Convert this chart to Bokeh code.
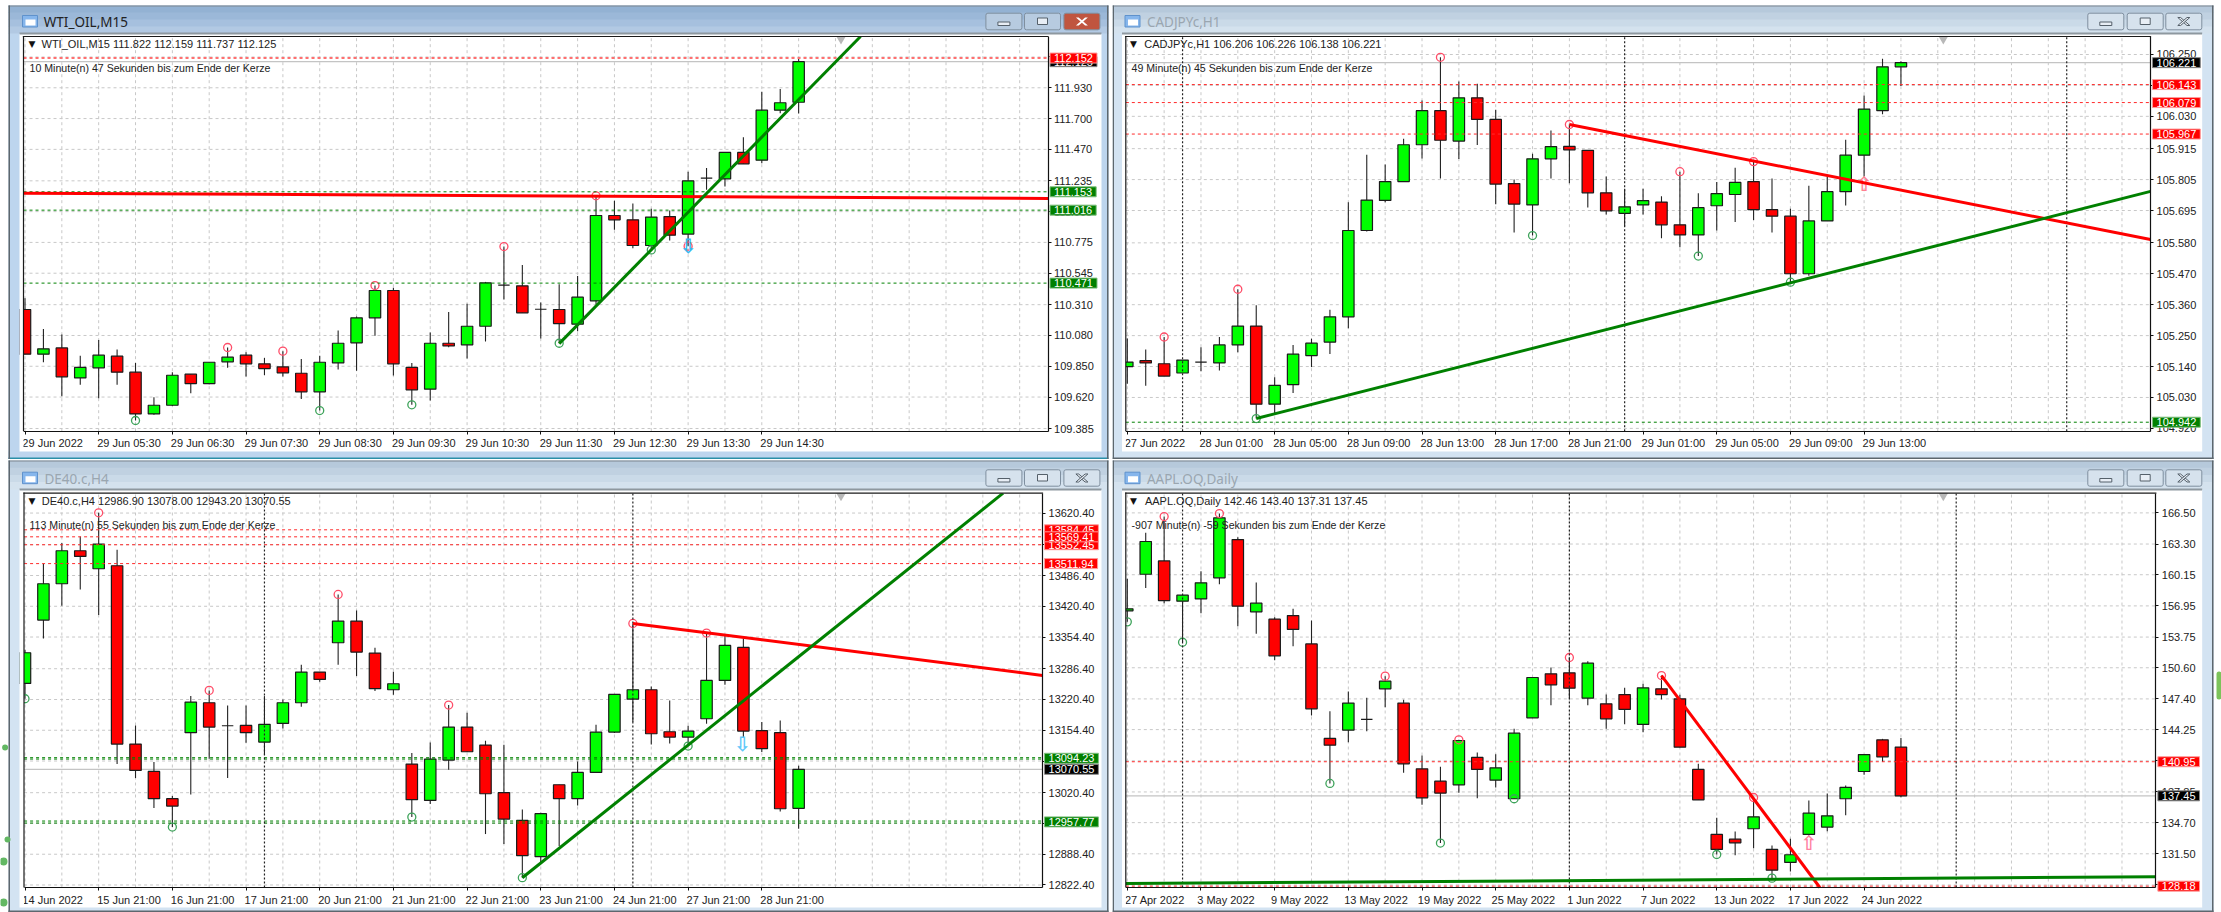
from bokeh.plotting import figure
from bokeh.layouts import column, row
from bokeh.models import Range1d, FixedTicker, Label, BoxAnnotation, PolyAnnotation
from bokeh.core.properties import value
from bokeh.embed import file_html
from bokeh.resources import INLINE

# ---------- WTI_OIL,M15 ----------
wti_open = [110.274,109.940,109.987,109.763,109.838,109.925,109.806,109.494,109.559,109.791,109.721,109.883,109.933,109.868,109.845,109.798,109.659,109.875,110.025,110.212,110.416,109.841,109.679,110.022,110.010,110.149,110.456,110.451,110.276,110.274,110.164,110.339,110.976,110.944,110.752,110.968,110.837,111.255,111.250,111.447,111.389,111.763,111.822]
wti_high = [110.358,110.129,110.087,109.928,110.047,109.975,109.875,109.619,109.806,109.791,109.880,109.990,109.955,109.913,109.963,109.905,109.928,110.117,110.221,110.453,110.436,109.875,110.102,110.256,110.316,110.480,110.744,110.607,110.326,110.463,110.525,111.123,111.086,111.066,111.026,111.013,111.302,111.330,111.447,111.561,111.900,111.920,112.159]
wti_low = [109.940,109.880,109.626,109.711,109.611,109.711,109.445,109.487,109.554,109.649,109.716,109.838,109.773,109.783,109.773,109.606,109.519,109.826,109.816,110.077,109.781,109.562,109.594,109.992,109.908,110.035,110.348,110.249,110.057,110.022,110.112,110.314,110.869,110.732,110.719,110.789,110.747,111.168,111.193,111.362,111.367,111.740,111.737]
wti_close = [109.940,109.980,109.771,109.841,109.933,109.806,109.494,109.559,109.783,109.721,109.880,109.918,109.868,109.833,109.801,109.659,109.880,110.022,110.212,110.416,109.868,109.674,110.022,110.002,110.149,110.473,110.456,110.249,110.276,110.169,110.366,110.976,110.944,110.752,110.964,110.829,111.235,111.255,111.447,111.362,111.763,111.818,112.125]
wti_xlabels = ["29 Jun 2022","29 Jun 05:30","29 Jun 06:30","29 Jun 07:30","29 Jun 08:30","29 Jun 09:30","29 Jun 10:30","29 Jun 11:30","29 Jun 12:30","29 Jun 13:30","29 Jun 14:30"]
wti_yticks = ["112.160","111.930","111.700","111.470","111.235","111.005","110.775","110.545","110.310","110.080","109.850","109.620","109.385"]
wti_high_marks = [11,14,19,26,31]
wti_low_marks = [6,16,21,29,34]

# ---------- CADJPYc,H1 ----------
cad_open = [105.140,105.161,105.150,105.117,105.156,105.153,105.217,105.284,105.006,105.076,105.179,105.227,105.317,105.624,105.731,105.798,105.929,106.050,105.942,106.096,106.019,105.791,105.715,105.879,105.923,105.909,105.758,105.685,105.715,105.725,105.644,105.608,105.712,105.752,105.798,105.698,105.675,105.470,105.658,105.762,105.892,106.050,106.206]
cad_high = [105.240,105.201,105.245,105.163,105.209,105.245,105.415,105.358,105.102,105.217,105.239,105.342,105.724,105.893,105.859,105.950,106.086,106.240,106.154,106.146,106.053,105.805,105.897,105.980,106.001,105.909,105.816,105.772,105.772,105.746,105.833,105.756,105.796,105.847,105.869,105.809,105.701,105.783,105.814,105.947,106.104,106.235,106.226]
cad_low = [105.079,105.072,105.106,105.117,105.123,105.126,105.191,104.955,104.972,105.046,105.138,105.185,105.276,105.620,105.724,105.797,105.880,105.809,105.878,105.928,105.717,105.617,105.606,105.809,105.792,105.706,105.681,105.638,105.681,105.596,105.564,105.533,105.624,105.654,105.661,105.617,105.440,105.463,105.658,105.713,105.816,106.037,106.138]
cad_close = [105.156,105.153,105.106,105.163,105.156,105.217,105.284,105.006,105.073,105.184,105.223,105.317,105.624,105.732,105.798,105.929,106.050,105.945,106.096,106.019,105.789,105.718,105.879,105.922,105.911,105.758,105.694,105.708,105.730,105.644,105.608,105.705,105.755,105.795,105.698,105.675,105.470,105.658,105.762,105.892,106.056,106.206,106.221]
cad_xlabels = ["27 Jun 2022","28 Jun 01:00","28 Jun 05:00","28 Jun 09:00","28 Jun 13:00","28 Jun 17:00","28 Jun 21:00","29 Jun 01:00","29 Jun 05:00","29 Jun 09:00","29 Jun 13:00"]
cad_yticks = ["106.250","106.140","106.030","105.915","105.805","105.695","105.580","105.470","105.360","105.250","105.140","105.030","104.920"]
cad_high_marks = [2,6,17,24,30,34]
cad_low_marks = [7,22,31,36]

# ---------- DE40.c,H4 ----------
de_open = [13254.9,13390.8,13468.7,13539.5,13500.9,13507.3,13124.8,13066.1,13007.5,13149.1,13213.4,13164.1,13164.8,13129.1,13169.1,13213.4,13279.2,13342.1,13388.6,13320.0,13241.3,13081.9,13003.9,13090.4,13161.2,13122.6,13020.4,12961.0,12883.1,13037.5,13007.5,13064.0,13150.5,13221.3,13241.3,13151.2,13139.8,13179.1,13261.3,13332.1,13153.4,13149.1,12986.90]
de_high = [13327.1,13511.6,13555.9,13570.2,13621.0,13541.6,13164.8,13086.2,13013.2,13227.7,13239.9,13207.7,13207.7,13227.7,13220.6,13295.0,13279.2,13445.8,13411.5,13331.4,13279.9,13105.5,13128.3,13208.4,13192.0,13131.9,13123.3,12984.6,12977.5,13037.5,13087.6,13166.2,13231.3,13383.6,13248.5,13218.4,13164.1,13362.9,13357.9,13350.7,13172.0,13175.5,13078.00]
de_low = [13222.0,13351.4,13421.5,13456.6,13401.5,13081.9,13051.8,12987.5,12946.7,13016.8,13093.3,13051.8,13127.6,13101.9,13158.4,13204.9,13258.5,13295.0,13270.6,13238.5,13230.6,12968.2,12996.1,13069.7,13108.3,12931.7,12910.2,12838.0,12870.2,12906.0,12993.2,13064.0,13148.4,13172.0,13124.0,13126.2,13120.5,13168.4,13252.0,13137.6,13107.6,12980.3,12943.20]
de_close = [13320.7,13468.7,13539.5,13527.3,13553.8,13124.8,13068.3,13007.5,12991.8,13214.9,13161.2,13164.1,13149.1,13167.0,13213.4,13279.2,13263.5,13388.6,13322.1,13243.5,13254.2,13005.4,13092.6,13161.2,13108.3,13018.2,12963.9,12885.2,12975.3,13007.5,13064.0,13150.5,13231.3,13241.3,13146.9,13139.8,13152.7,13261.3,13336.4,13152.7,13114.8,12986.0,13070.55]
de_xlabels = ["14 Jun 2022","15 Jun 21:00","16 Jun 21:00","17 Jun 21:00","20 Jun 21:00","21 Jun 21:00","22 Jun 21:00","23 Jun 21:00","24 Jun 21:00","27 Jun 21:00","28 Jun 21:00"]
de_yticks = ["13620.40","13552.40","13486.40","13420.40","13354.40","13286.40","13220.40","13154.40","13088.40","13020.40","12954.40","12888.40","12822.40"]
de_high_marks = [4,10,17,23,33,37]
de_low_marks = [0,8,21,27,36]

# ---------- AAPL.OQ,Daily ----------
aapl_open = [156.44,160.20,161.57,157.44,157.67,159.83,163.76,156.34,155.59,155.96,153.05,143.34,144.19,145.29,148.44,146.97,140.22,138.96,138.58,141.39,139.06,137.15,145.46,149.98,150.08,147.48,146.90,147.85,144.78,148.44,147.41,140.16,133.49,133.00,134.07,131.95,130.61,133.49,134.24,137.15,139.95,143.20,142.46]
aapl_high = [159.73,164.45,166.12,158.05,160.51,166.43,164.00,159.35,155.79,156.65,155.45,146.14,148.16,147.51,149.74,147.31,141.59,140.43,143.20,141.90,141.73,144.33,149.60,150.62,151.65,151.27,147.85,148.54,148.95,149.80,147.82,140.74,135.19,133.79,137.28,132.36,133.04,136.97,137.69,138.51,141.69,143.30,143.40]
aapl_low = [155.31,158.80,157.23,153.22,156.20,159.18,154.87,154.08,151.38,152.81,145.70,138.72,142.96,144.09,146.55,139.81,136.53,132.60,137.76,137.21,138.31,137.15,145.46,146.76,147.44,146.76,144.33,144.81,143.99,147.34,142.45,137.04,131.43,131.36,132.08,129.00,129.69,133.38,133.82,135.47,139.61,140.94,137.31]
aapl_close = [156.65,163.56,157.50,158.05,159.32,165.99,156.92,157.23,151.82,154.53,146.38,142.65,146.97,145.29,149.22,140.74,137.25,137.73,143.13,140.16,140.33,143.88,149.60,148.85,148.50,151.07,145.36,146.32,148.54,147.85,142.45,137.04,131.95,132.63,135.30,129.82,131.40,135.67,135.40,138.31,141.69,141.45,137.45]
aapl_xlabels = ["27 Apr 2022","3 May 2022","9 May 2022","13 May 2022","19 May 2022","25 May 2022","1 Jun 2022","7 Jun 2022","13 Jun 2022","17 Jun 2022","24 Jun 2022"]
aapl_yticks = ["166.50","163.30","160.15","156.95","153.75","150.60","147.40","144.25","141.05","137.85","134.70","131.50","128.30"]
aapl_high_marks = [2,5,14,18,24,29,34]
aapl_low_marks = [0,3,11,17,21,32,35]

UI_FONT = "Liberation Sans"
UI_SIZE = "11px"
COUNT_SIZE = "10.6px"
BAR_PX = 18.42


def box(p, l, r, t, b, color, line=None, radius=0):
    p.add_layout(BoxAnnotation(left=l, right=r, top=t, bottom=b,
                               left_units="canvas", right_units="canvas",
                               top_units="canvas", bottom_units="canvas",
                               fill_color=color, fill_alpha=1,
                               line_color=line, line_alpha=1 if line else 0,
                               border_radius=radius, level="overlay", editable=False))


def canvas_text(p, x, y, txt, size, color, font=UI_FONT):
    p.add_layout(Label(x=x, y=y, x_units="canvas", y_units="canvas", text=txt,
                       text_font=font, text_font_size=size, text_color=color,
                       text_baseline="middle", text_align="left", level="overlay"))


def chrome(p, g, title, active):
    """Draw the MT4 window around the chart; g holds the geometry in canvas pixels."""
    wl, wr = g["win_x"]
    wt, wb = g["win_y"]
    cl, cr = g["client_x"]
    tb = g["title_b"]
    cb = g["client_b"]
    fl, ft = g["frame_lt"]
    # strips of the client area that hide whatever leaves the chart on the left and on top
    box(p, cl, fl, tb, cb, "#ffffff")
    box(p, cl, cr, tb, ft, "#ffffff")
    # frame of the chart
    box(p, fl - 0.6, fl + 0.6, ft - 0.6, g["frame_b"], "#1a1a1a")
    box(p, fl - 0.6, g["frame_r"] + 0.6, ft - 0.6, ft + 0.6, "#1a1a1a")
    # title bar
    bands = (["#93b2d3", "#9bb8d8", "#a6c0de", "#b2c9e3"] if active
             else ["#b6c9db", "#c0d1e1", "#cadae8", "#d4e2ee"])
    bh = (tb - wt) / 4
    for i, c in enumerate(bands):
        box(p, wl, wr, wt + i * bh, wt + (i + 1) * bh + 0.5, c)
    box(p, wl, wr, wt, wt + 1, "#7c868f")
    box(p, cl, cr, tb - 1, tb + 1, "#8e989f")
    side = "#bdd5ee" if active else "#d3e3f2"
    box(p, wl, cl, tb, wb, side)
    box(p, cr, wr, tb, wb, side)
    if cb < wb:
        box(p, wl, wr, cb, wb, side)
        box(p, wl, wr, wb - 2, wb, "#2a8fa8" if active else "#5d676e")
    box(p, wl, wl + 1.5, wt, wb, "#5d676e")
    box(p, wr - 1.5, wr, wt, wb, "#5d676e")
    # icon and title
    ix, iy = g["icon"]
    box(p, ix, ix + 15, iy, iy + 11.5, "#86b6ec", "#5f92cc")
    box(p, ix + 3, ix + 13, iy + 4, iy + 10, "#ffffff")
    canvas_text(p, g["title_x"], g["title_y"], title, "13.5px",
                "#222222" if active else "#9aa6b0", "Noto Sans")
    # window buttons
    by0, by1 = g["btn_y"]
    for i, bx in enumerate(g["btn_x"]):
        fill = ("#c0553f" if active else "#d6e2ed") if i == 2 else ("#b7cbe0" if active else "#d6e2ed")
        box(p, bx, bx + 36, by0, by1, fill, "#7f8f9f", 2)
        cx, cy = bx + 18, (by0 + by1) / 2
        if i == 0:
            box(p, cx - 6, cx + 6, cy + 0.5, cy + 4, "#e8eef5", "#55606a")
        elif i == 1:
            box(p, cx - 5, cx + 5, cy - 3.5, cy + 3, "#e8eef5", "#55606a")
        else:
            col = "#ffffff" if active else "#e8eef5"
            edge = None if active else "#55606a"
            for sgn in (1, -1):
                p.add_layout(PolyAnnotation(
                    xs=[cx - 6, cx - 3.2, cx + 6, cx + 3.2],
                    ys=[cy - sgn * 4, cy - sgn * 4, cy + sgn * 4, cy + sgn * 4],
                    xs_units="canvas", ys_units="canvas", fill_color=col, fill_alpha=1,
                    line_color=edge, line_alpha=1 if edge else 0, level="overlay", editable=False))


def window(o, h, l, c, xlabels, yticks, high_marks, low_marks, title, header, countdown,
           size, x0_px, xlim, ylim, g, reds, greens, last, seps, trends, tags, arrows,
           extra_red, active, red_style=("#ff2a2a", 1)):
    w, ht = size
    fl, ft = g["frame_lt"]
    fb = g["frame_b"]
    per_px = (ylim[1] - ylim[0]) / (fb - ft)
    p = figure(width=w, height=ht,
               x_range=Range1d(-x0_px / BAR_PX, (w - x0_px) / BAR_PX),
               y_range=Range1d(ylim[0] - (ht - fb) * per_px, ylim[1] + ft * per_px),
               y_axis_location="right", output_backend="svg", toolbar_location=None,
               min_border_left=0, min_border_right=0, min_border_top=0, min_border_bottom=0)
    p.border_fill_color = "#ffffff"
    p.background_fill_color = "#ffffff"
    p.outline_line_color = None
    p.xgrid.visible = False
    p.ygrid.visible = False

    idx = list(range(len(o)))
    grid_x = [v for v in range(0, 57, 2) if v < xlim[1]]
    tick_x = list(range(0, 44, 4))
    label_x = [t + (len(s) * 2.65 - 1.5) / BAR_PX for t, s in zip(tick_x, xlabels)]
    ticks = [float(s) for s in yticks]

    xa = p.xaxis[0]
    xa.fixed_location = ylim[0]
    xa.bounds = xlim
    xa.ticker = FixedTicker(ticks=label_x, minor_ticks=tick_x)
    xa.major_label_overrides = dict(zip(label_x, xlabels))
    xa.major_tick_line_color = None
    xa.major_tick_out = 0
    xa.major_tick_in = 0
    xa.minor_tick_out = 3
    xa.minor_tick_in = 0
    xa.minor_tick_line_color = "#111111"
    xa.major_label_standoff = 3
    ya = p.yaxis[0]
    ya.fixed_location = xlim[1]
    ya.bounds = ylim
    ya.ticker = FixedTicker(ticks=ticks)
    ya.major_label_overrides = dict(zip(ticks, yticks))
    ya.major_tick_out = 3
    ya.major_tick_in = 0
    ya.minor_tick_line_color = None
    ya.major_label_standoff = 3
    ya.major_tick_line_color = "#111111"
    for a in (xa, ya):
        a.axis_line_color = "#111111"
        a.axis_line_width = 1.2
        a.major_label_text_font = UI_FONT
        a.major_label_text_font_size = UI_SIZE
        a.major_label_text_color = "#222222"

    # grid, kept inside the chart area
    p.segment(x0=grid_x, x1=grid_x, y0=[ylim[0]] * len(grid_x), y1=[ylim[1]] * len(grid_x),
              line_color="#c8c8c8", line_dash="3 3", line_width=1)
    p.segment(x0=[xlim[0]] * len(ticks), x1=[xlim[1]] * len(ticks), y0=ticks, y1=ticks,
              line_color="#c8c8c8", line_dash="3 3", line_width=1)

    # current price line
    p.line(x=list(xlim), y=[last, last], line_color="#c4c4c4", line_width=1.2)

    # candles
    colors = ["#00ff00" if b > a else "#ff0000" if b < a else "#111111" for a, b in zip(o, c)]
    p.segment(x0=idx, x1=idx, y0=l, y1=h, line_color="#222222", line_width=1.1)
    p.vbar(x=idx, width=0.62, top=[max(a, b) for a, b in zip(o, c)],
           bottom=[min(a, b) for a, b in zip(o, c)], fill_color=colors,
           line_color="#1a1a1a", line_width=1.2)

    # swing marks
    p.scatter(x=high_marks, y=[h[i] for i in high_marks], marker="circle", size=8,
              fill_alpha=0, line_color="#ff4d68", line_width=1.3)
    p.scatter(x=low_marks, y=[l[i] for i in low_marks], marker="circle", size=8,
              fill_alpha=0, line_color="#3da35a", line_width=1.3)
    if extra_red:
        p.scatter(x=[e[0] for e in extra_red], y=[e[1] for e in extra_red], marker="circle", size=8,
                  fill_alpha=0, line_color="#ff4d68", line_width=1.3)
    for ax, ay, sym, col in arrows:
        p.text(x=[ax], y=[ay], text=[sym], text_color=col, text_font=value("DejaVu Sans"),
               text_font_size=value("20px"), text_font_style="bold",
               text_align="center", text_baseline="middle")

    # scale marker at the top of the chart
    p.scatter(x=[44.3], y=[ylim[1]], marker="inverted_triangle", size=14,
              fill_color="#b8b8b8", line_color=None)

    # horizontal levels and period separators
    if reds:
        p.segment(x0=[xlim[0]] * len(reds), x1=[xlim[1]] * len(reds), y0=reds, y1=reds,
                  line_color=red_style[0], line_dash="3 3", line_width=red_style[1])
    if greens:
        p.segment(x0=[xlim[0]] * len(greens), x1=[xlim[1]] * len(greens), y0=greens, y1=greens,
                  line_color="#008000", line_dash="3 3", line_width=1)
    if seps:
        p.segment(x0=seps, x1=seps, y0=[ylim[0]] * len(seps), y1=[ylim[1]] * len(seps),
                  line_color="#222222", line_dash="2 2", line_width=1.2)

    # trend lines
    for x0, y0, x1, y1, col in trends:
        p.line(x=[x0, x1], y=[y0, y1], line_color=col, line_width=3)

    # window around the chart
    chrome(p, g, title, active)

    # texts inside the chart
    canvas_text(p, g["tri_x"], g["header_y"], "\u25BC", "9px", "#111111", "DejaVu Sans")
    canvas_text(p, g["header_x"], g["header_y"], header, UI_SIZE, "#222222")
    canvas_text(p, g["count_x"], g["count_y"], countdown, COUNT_SIZE, "#222222")

    # price tags
    for v, txt, bg, edge in tags:
        p.add_layout(Label(x=xlim[1], y=v, x_offset=2, text=txt, text_font=UI_FONT,
                           text_font_size=UI_SIZE, text_color="#ffffff", text_baseline="middle",
                           background_fill_color=bg, background_fill_alpha=1,
                           border_line_color=edge, border_line_alpha=1, padding=(4, 1), level="overlay"))
    return p


RED, RED_E = "#ff0000", "#ff9a9a"
GRN, GRN_E = "#008000", "#7fbf7f"
BLK, BLK_E = "#000000", "#888888"

left_top = dict(win_x=(8, 1108), win_y=(5, 459), client_x=(19, 1101), title_b=33, client_b=451,
                frame_lt=(23, 36), frame_b=430.7, frame_r=1047.5, icon=(22, 15), title_x=43.3, title_y=21.3,
                btn_x=(985.4, 1024, 1063.4), btn_y=(12.7, 29.3), tri_x=28, header_x=41, header_y=43.7,
                count_x=29, count_y=67.3)
right_top = dict(win_x=(0, 1101), win_y=(5, 459), client_x=(9.5, 1089.7), title_b=33, client_b=451,
                 frame_lt=(13.3, 36), frame_b=430.7, frame_r=1038, icon=(12.5, 15), title_x=34.4, title_y=21.3,
                 btn_x=(975.3, 1014.7, 1053.3), btn_y=(12.7, 29.3), tri_x=17.5, header_x=31.7, header_y=43.7,
                 count_x=19, count_y=67.3)
left_bot = dict(win_x=(8, 1108), win_y=(1, 453), client_x=(19, 1101), title_b=30, client_b=448,
                frame_lt=(23.5, 33.7), frame_b=428, frame_r=1042, icon=(22, 12.7), title_x=44, title_y=19,
                btn_x=(985.4, 1024, 1063.4), btn_y=(10.3, 26.7), tri_x=28, header_x=41.3, header_y=41.7,
                count_x=29, count_y=65)
right_bot = dict(win_x=(0, 1101), win_y=(1, 453), client_x=(9.5, 1089.7), title_b=30, client_b=448,
                 frame_lt=(13.3, 33.7), frame_b=428, frame_r=1043.3, icon=(12.5, 12.7), title_x=34.4, title_y=19,
                 btn_x=(975.3, 1014.7, 1053.3), btn_y=(10.3, 26.7), tri_x=17.5, header_x=32.4, header_y=41.7,
                 count_x=19, count_y=65)

p1 = window(wti_open, wti_high, wti_low, wti_close, wti_xlabels, wti_yticks, wti_high_marks, wti_low_marks,
            "WTI_OIL,M15", "WTI_OIL,M15  111.822 112.159 111.737 112.125",
            "10 Minute(n) 47 Sekunden bis zum Ende der Kerze",
            (1112, 459), 24.5, (-0.08, 55.54), (109.365, 112.313), left_top,
            [112.152], [111.153, 111.016, 110.471], 112.125, [],
            [(-0.08, 111.143, 55.54, 111.103, "#ff0000"), (29, 110.019, 45.36, 112.313, "#008000")],
            [(112.125, "112.125", BLK, BLK_E), (112.152, "112.152", RED, RED_E),
             (111.153, "111.153", GRN, GRN_E), (111.016, "111.016", GRN, GRN_E),
             (110.471, "110.471", GRN, GRN_E)],
            [(36, 110.747, "\u21E9", "#35b8f0")], [(36, 110.747)], True, ("#ff7070", 2))

p2 = window(cad_open, cad_high, cad_low, cad_close, cad_xlabels, cad_yticks, cad_high_marks, cad_low_marks,
            "CADJPYc,H1", "CADJPYc,H1  106.206 106.226 106.138 106.221",
            "49 Minute(n) 45 Sekunden bis zum Ende der Kerze",
            (1109, 459), 14.8, (-0.08, 55.55), (104.910, 106.314), right_top,
            [106.143, 106.079, 105.967], [104.942], 106.221, [3, 27, 51],
            [(24, 106.001, 55.55, 105.592, "#ff0000"), (7, 104.955, 55.55, 105.763, "#008000")],
            [(106.221, "106.221", BLK, BLK_E), (106.143, "106.143", RED, RED_E),
             (106.079, "106.079", RED, RED_E), (105.967, "105.967", RED, RED_E),
             (104.942, "104.942", GRN, GRN_E)],
            [(40, 105.788, "\u21E7", "#ff8090")], [], False)

p3 = window(de_open, de_high, de_low, de_close, de_xlabels, de_yticks, de_high_marks, de_low_marks,
            "DE40.c,H4", "DE40.c,H4  12986.90 13078.00 12943.20 13070.55",
            "113 Minute(n) 55 Sekunden bis zum Ende der Kerze",
            (1112, 453), 24.5, (-0.05, 55.24), (12817.0, 13663.0), left_bot,
            [13584.45, 13569.41, 13552.45, 13511.94], [13095.5, 13092.6, 12959.6, 12955.3], 13070.55, [13, 33],
            [(33, 13383.6, 55.24, 13272.1, "#ff0000"), (27, 12838.0, 53.1, 13663.0, "#008000")],
            [(13584.45, "13584.45", RED, RED_E), (13552.45, "13552.45", RED, RED_E),
             (13569.41, "13569.41", RED, RED_E), (13511.94, "13511.94", RED, RED_E),
             (13094.23, "13094.23", GRN, GRN_E), (13070.55, "13070.55", BLK, BLK_E),
             (12957.77, "12957.77", GRN, GRN_E)],
            [(38.95, 13125.5, "\u21E9", "#60c8f8")], [], False)

p4 = window(aapl_open, aapl_high, aapl_low, aapl_close, aapl_xlabels, aapl_yticks, aapl_high_marks, aapl_low_marks,
            "AAPL.OQ,Daily", "AAPL.OQ,Daily  142.46 143.40 137.31 137.45",
            "-907 Minute(n) -59 Sekunden bis zum Ende der Kerze",
            (1109, 453), 14.8, (-0.08, 55.84), (128.04, 168.52), right_bot,
            [140.95, 128.18], [], 137.45, [3, 24, 45],
            [(29, 149.80, 37.6, 128.04, "#ff0000"), (-0.08, 128.45, 55.84, 129.14, "#008000")],
            [(140.95, "140.95", RED, RED_E), (137.45, "137.45", BLK, BLK_E), (128.18, "128.18", RED, RED_E)],
            [(37, 132.6, "\u21E7", "#ff80a0")], [], False)

# desktop wallpaper showing at the edges of the screenshot
for cx, cy, r in [(4.6, 288, 3), (7, 380, 3), (3, 402, 4), (3, 443, 4)]:
    box(p3, cx - r, cx + r, cy - r, cy + r, "#63b863", None, r)
box(p4, 1104, 1109, 212, 240, "#7cc35a", None, 4)

page = column(row(p1, p2, spacing=0), row(p3, p4, spacing=0), spacing=0)
open("out.html", "w").write(file_html(page, INLINE))
